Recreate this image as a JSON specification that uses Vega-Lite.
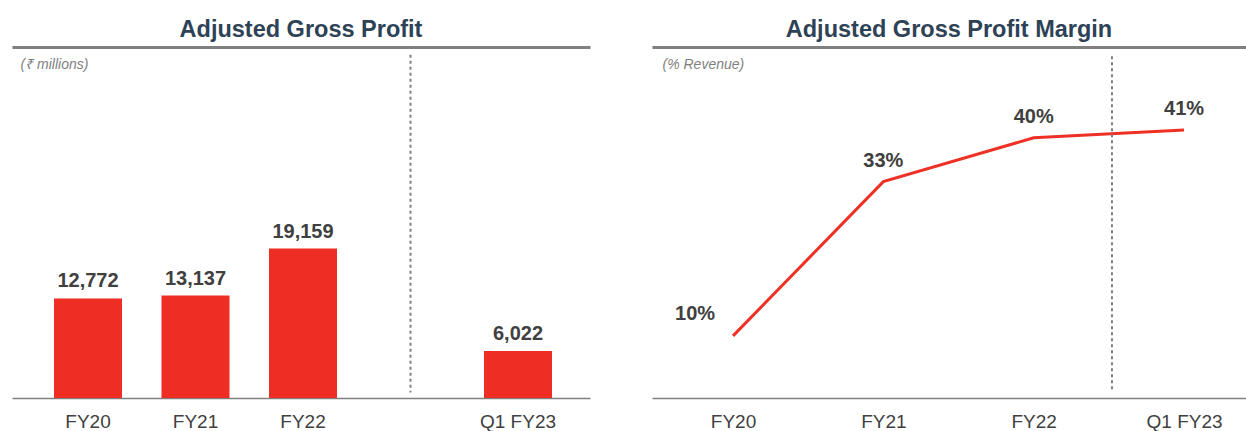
{
  "$schema": "https://vega.github.io/schema/vega-lite/v6.json",
  "padding": {"left": 12, "top": 17, "right": 0, "bottom": 0},
  "config": {"font": "Liberation Sans", "view": {"stroke": null}},
  "spacing": 62,
  "hconcat": [
    {
      "width": 578,
      "height": 351,
      "title": {"text": "Adjusted Gross Profit", "fontSize": 23.5, "fontWeight": "bold", "color": "#2E4256", "offset": 6, "anchor": "middle"},
      "layer": [
        {
          "data": {"values": [
            {"period": "FY20", "gp": 12772},
            {"period": "FY21", "gp": 13137},
            {"period": "FY22", "gp": 19159},
            {"period": "Q1 FY23", "gp": 6022}
          ]},
          "layer": [
            {
              "mark": {"type": "bar", "color": "#EE2D24"},
              "encoding": {
                "x": {"field": "period", "type": "nominal", "sort": null,
                  "scale": {"domain": ["FY20", "FY21", "FY22", " ", "Q1 FY23"], "paddingInner": 0.3674, "paddingOuter": 0.372, "align": 0.525},
                  "axis": {"title": null, "ticks": false, "tickSize": 0, "labelAngle": 0, "labelFontSize": 19, "labelColor": "#404040", "labelPadding": 14, "domainColor": "#808080", "domainWidth": 1.5}},
                "y": {"field": "gp", "type": "quantitative", "scale": {"domain": [0, 45000], "nice": false},
                  "axis": {"title": "(₹ millions)", "titleAngle": 0, "titleAlign": "left", "titleBaseline": "middle", "titleX": 8, "titleY": 17, "titleFontSize": 14, "titleFontStyle": "italic", "titleFontWeight": "normal", "titleColor": "#7F7F7F", "labels": false, "ticks": false, "domain": false, "grid": false}}
              }
            },
            {
              "mark": {"type": "text", "fontSize": 20, "fontWeight": "bold", "color": "#404040", "baseline": "alphabetic", "dy": -11},
              "encoding": {
                "x": {"field": "period", "type": "nominal", "sort": null},
                "y": {"field": "gp", "type": "quantitative"},
                "text": {"field": "gp", "type": "quantitative", "format": ","}
              }
            }
          ]
        },
        {
          "data": {"values": [{"sep": " "}]},
          "mark": {"type": "rule", "color": "#808080", "strokeWidth": 2, "strokeDash": [3, 3]},
          "encoding": {
            "x": {"field": "sep", "type": "nominal", "bandPosition": 0.5,
              "scale": {"domain": ["FY20", "FY21", "FY22", " ", "Q1 FY23"], "paddingInner": 0.3674, "paddingOuter": 0.372, "align": 0.525},
              "axis": {"orient": "top", "title": null, "labels": false, "ticks": false, "domain": true, "domainWidth": 3, "domainColor": "#808080"}},
            "y": {"datum": 44000},
            "y2": {"datum": 700}
          }
        }
      ],
      "resolve": {"scale": {"x": "independent"}, "axis": {"x": "independent"}}
    },
    {
      "width": 594,
      "height": 351,
      "title": {"text": "Adjusted Gross Profit Margin", "fontSize": 23.5, "fontWeight": "bold", "color": "#2E4256", "offset": 6, "anchor": "middle"},
      "layer": [
        {
          "data": {"values": [
            {"period": "FY20", "margin": 9.5, "label": "10%"},
            {"period": "FY21", "margin": 33.1, "label": "33%"},
            {"period": "FY22", "margin": 39.8, "label": "40%"},
            {"period": "Q1 FY23", "margin": 41.0, "label": "41%"}
          ]},
          "encoding": {
            "x": {"field": "period", "type": "nominal", "sort": null,
              "scale": {"type": "point", "domain": ["FY20", "FY21", "FY22", "Q1 FY23"], "padding": 0.4756, "align": 0.5666},
              "axis": {"title": null, "ticks": false, "tickSize": 0, "labelAngle": 0, "labelFontSize": 19, "labelColor": "#404040", "labelPadding": 14, "domainColor": "#808080", "domainWidth": 1.5}},
            "y": {"field": "margin", "type": "quantitative", "scale": {"domain": [0, 53.7], "nice": false},
              "axis": {"title": "(% Revenue)", "titleAngle": 0, "titleAlign": "left", "titleBaseline": "middle", "titleX": 10, "titleY": 17, "titleFontSize": 14, "titleFontStyle": "italic", "titleFontWeight": "normal", "titleColor": "#7F7F7F", "labels": false, "ticks": false, "domain": false, "grid": false}}
          },
          "layer": [
            {"mark": {"type": "line", "color": "#EE3124", "strokeWidth": 3}},
            {
              "transform": [{"filter": "datum.period != 'FY20'"}],
              "mark": {"type": "text", "fontSize": 20, "fontWeight": "bold", "color": "#404040", "baseline": "alphabetic", "dy": -15},
              "encoding": {"text": {"field": "label", "type": "nominal"}}
            },
            {
              "transform": [{"filter": "datum.period == 'FY20'"}],
              "mark": {"type": "text", "fontSize": 20, "fontWeight": "bold", "color": "#404040", "baseline": "alphabetic", "dy": -16, "dx": -38},
              "encoding": {"text": {"field": "label", "type": "nominal"}}
            }
          ]
        },
        {
          "data": {"values": [{}]},
          "mark": {"type": "rule", "color": "#808080", "strokeWidth": 2, "strokeDash": [3, 3]},
          "encoding": {
            "x": {"datum": 2.521, "type": "quantitative",
              "scale": {"domain": [-0.5388, 3.4125], "nice": false, "zero": false},
              "axis": {"orient": "top", "title": null, "labels": false, "ticks": false, "grid": false, "domain": true, "domainWidth": 3, "domainColor": "#808080"}},
            "y": {"datum": 52.3},
            "y2": {"datum": 0.9}
          }
        }
      ],
      "resolve": {"scale": {"x": "independent"}, "axis": {"x": "independent"}}
    }
  ]
}
